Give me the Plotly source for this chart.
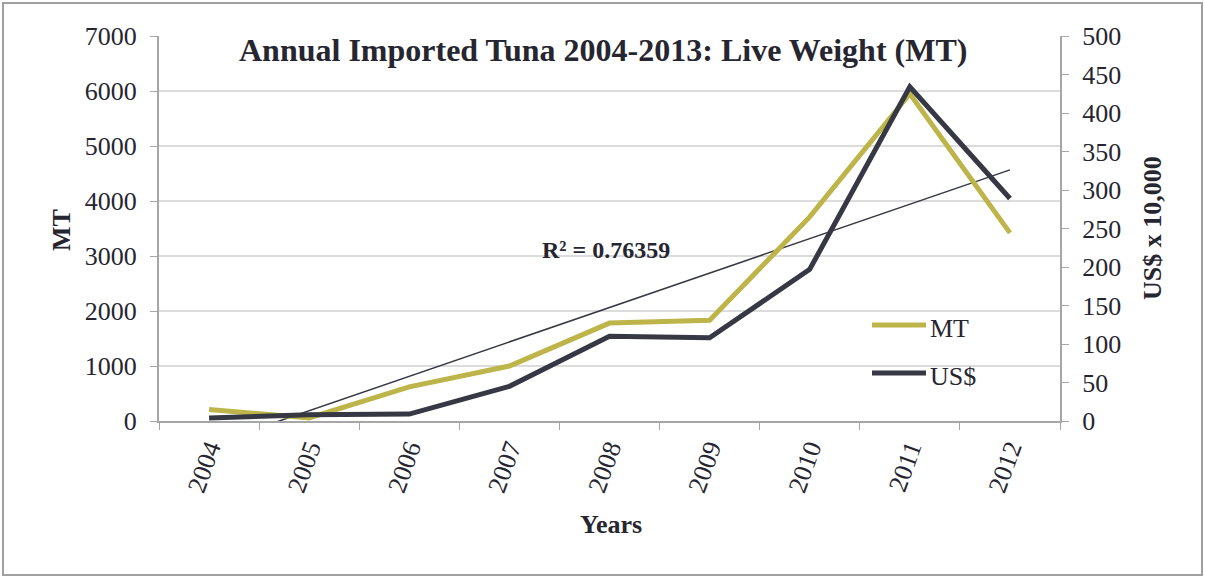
import numpy as np
import plotly.graph_objects as go

# Annual imported tuna, 2004-2012
years = ["2004", "2005", "2006", "2007", "2008", "2009", "2010", "2011", "2012"]
mt_values = [210, 55, 620, 1000, 1780, 1830, 3710, 5950, 3420]      # live weight, MT
usd_values = [4, 8, 9, 45, 110, 108, 197, 434, 289]                # US$ x 10,000
series_names = ["MT", "US$"]
r2_label = "R² = 0.76359"

FONT = "Times New Roman, Liberation Serif, serif"
TEXT = "#262630"
AXIS = "#a6a6a6"
GRID = "#dcdcdc"
OLIVE = "#bdb549"
DARK = "#363844"
FS = 26

# Linear trend of the MT series
xi = np.arange(len(years))
slope, intercept = np.polyfit(xi, mt_values, 1)
trend = list(intercept + slope * xi)

fig = go.Figure()
fig.add_trace(go.Scatter(
    x=years, y=trend, mode="lines", showlegend=False,
    line=dict(color=DARK, width=1.5), yaxis="y"))
fig.add_trace(go.Scatter(
    x=years, y=mt_values, mode="lines", name=series_names[0], showlegend=False,
    line=dict(color=OLIVE, width=5), yaxis="y"))
fig.add_trace(go.Scatter(
    x=years, y=usd_values, mode="lines", name=series_names[1], showlegend=False,
    line=dict(color=DARK, width=5), yaxis="y2"))

W, H = 1205, 577
L, R, T, B = 159, 145, 36, 156
pw, ph = W - L - R, H - T - B

def px(x):
    return (x - L) / pw

def py(y):
    return (H - B - y) / ph

fig.update_layout(
    width=W, height=H,
    margin=dict(l=L, r=R, t=T, b=B),
    paper_bgcolor="white", plot_bgcolor="white",
    font=dict(family=FONT, color=TEXT, size=FS),
    showlegend=False,
    xaxis=dict(
        type="category", tickson="boundaries", ticks="outside", ticklen=7,
        tickcolor=AXIS, showline=True, linecolor=AXIS, linewidth=2,
        tickangle=-70, tickfont=dict(size=FS), showgrid=False,
        range=[-0.5, 8.5]),
    yaxis=dict(
        range=[0, 7000], dtick=1000, ticks="outside", ticklen=7,
        tickcolor=AXIS, showline=True, linecolor=AXIS, linewidth=2,
        gridcolor=GRID, gridwidth=1.5, zeroline=False,
        ticklabelstandoff=8, tickfont=dict(size=FS)),
    yaxis2=dict(
        overlaying="y", side="right", range=[0, 500], dtick=50,
        ticks="outside", ticklen=7, tickcolor=AXIS, showline=True,
        linecolor=AXIS, linewidth=2, showgrid=False, zeroline=False,
        ticklabelstandoff=8, tickfont=dict(size=FS)),
)

annotations = [
    dict(text="<b>Annual Imported Tuna 2004-2013: Live Weight (MT)</b>",
         x=px(603), y=py(50), font=dict(size=32)),
    dict(text="<b>MT</b>", x=px(62), y=py(230), textangle=-90,
         font=dict(size=FS)),
    dict(text="<b>US$ x 10,000</b>", x=px(1152), y=py(228), textangle=-90,
         font=dict(size=FS)),
    dict(text="<b>Years</b>", x=px(611), y=py(524), font=dict(size=FS)),
    dict(text="<b>" + r2_label + "</b>", x=px(606), y=py(250),
         font=dict(size=24)),
]
for a in annotations:
    a.update(xref="paper", yref="paper", showarrow=False,
             xanchor="center", yanchor="middle")

# Legend: line sample plus label for each series
legend_rows = [(series_names[0], OLIVE, 325), (series_names[1], DARK, 373)]
for name, color, yrow in legend_rows:
    fig.add_shape(type="line", xref="paper", yref="paper",
                  x0=px(872), x1=px(926), y0=py(yrow), y1=py(yrow),
                  line=dict(color=color, width=5))
    annotations.append(dict(text=name, x=px(928), y=py(yrow + 3),
                            xref="paper", yref="paper", showarrow=False,
                            xanchor="left", yanchor="middle",
                            font=dict(size=FS)))
fig.update_layout(annotations=annotations)

# Outer chart frame
fig.add_shape(type="rect", xref="paper", yref="paper",
              x0=px(3), x1=px(1202), y0=py(575), y1=py(3),
              line=dict(color="#a0a0a0", width=2), layer="below")

fig.write_html("out.html")
